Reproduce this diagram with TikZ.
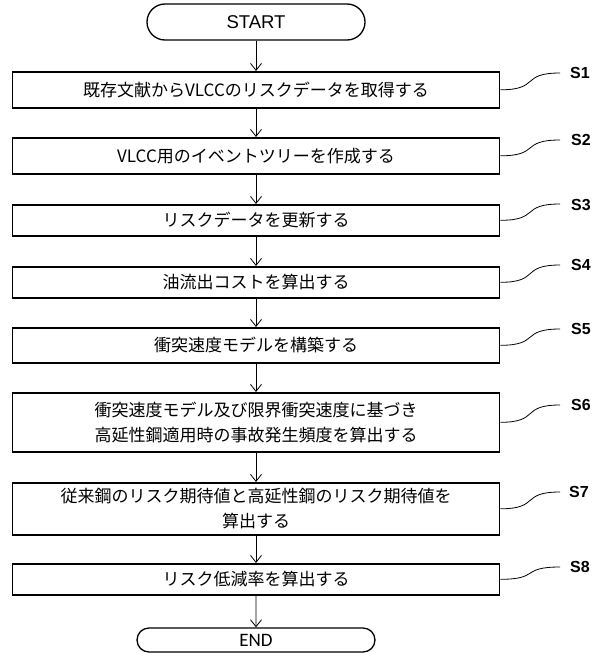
\documentclass[tikz,border=0pt]{standalone}
\usepackage{fontspec}
\setmainfont{Liberation Sans}
\newfontfamily\jpfont{Noto Sans CJK JP}
\newfontfamily\endfont{Carlito}
\usetikzlibrary{shapes.misc,arrows.meta}
\begin{document}
\begin{tikzpicture}[x=1pt,y=-1pt,
 stepbox/.style={draw,line width=1.6pt,minimum width=487pt,anchor=north,inner sep=0pt,font=\jpfont\fontsize{17}{25}\selectfont,align=center},
 term/.style={draw,rounded rectangle,line width=1.3pt,inner sep=0pt},
 arr/.style={-{Straight Barb[length=7pt,width=11pt]},line width=0.8pt},
 lead/.style={line width=0.8pt},
 lab/.style={font=\bfseries\fontsize{16}{16}\selectfont,anchor=west,inner sep=0pt}]
\useasboundingbox (0,0) rectangle (592,656);
\node[term,minimum width=218pt,minimum height=36pt,font=\fontsize{18.5}{18.5}\selectfont] (start) at (256,22) {START};
\node[stepbox,minimum height=36pt] (s1) at (256,71) {既存文献からVLCCのリスクデータを取得する};
\node[stepbox,minimum height=36pt] (s2) at (256,137) {VLCC用のイベントツリーを作成する};
\node[stepbox,minimum height=31pt] (s3) at (256,204) {リスクデータを更新する};
\node[stepbox,minimum height=31pt] (s4) at (256,266) {油流出コストを算出する};
\node[stepbox,minimum height=35pt] (s5) at (256,327) {衝突速度モデルを構築する};
\node[stepbox,minimum height=59pt] (s6) at (256,392) {衝突速度モデル及び限界衝突速度に基づき\\高延性鋼適用時の事故発生頻度を算出する};
\node[stepbox,minimum height=52pt] (s7) at (256,482) {従来鋼のリスク期待値と高延性鋼のリスク期待値を\\算出する};
\node[stepbox,minimum height=31pt] (s8) at (256,563) {リスク低減率を算出する};
\node[term,minimum width=238pt,minimum height=24pt,font=\endfont\fontsize{19}{19}\selectfont] (end) at (256,640) {END};
\draw[arr] (start) -- (s1);
\draw[arr] (s1) -- (s2);
\draw[arr] (s2) -- (s3);
\draw[arr] (s3) -- (s4);
\draw[arr] (s4) -- (s5);
\draw[arr] (s5) -- (s6);
\draw[arr] (s6) -- (s7);
\draw[arr] (s7) -- (s8);
\draw[arr] (s8) -- (end);
\node[lab] (l1) at (570,73) {S1};
\node[lab] (l2) at (571,140) {S2};
\node[lab] (l3) at (571,205) {S3};
\node[lab] (l4) at (571,265) {S4};
\node[lab] (l5) at (571,329) {S5};
\node[lab] (l6) at (571,405) {S6};
\node[lab] (l7) at (569,492) {S7};
\node[lab] (l8) at (570,567) {S8};
\foreach \i/\y in {1/73,2/140,3/204,4/265,5/329,6/405,7/492,8/567}{
  \coordinate (e\i) at (560,\y);
  \draw[lead] (s\i.east) .. controls +(40,0) and +(-40,0) .. (e\i);
}
\end{tikzpicture}
\end{document}
